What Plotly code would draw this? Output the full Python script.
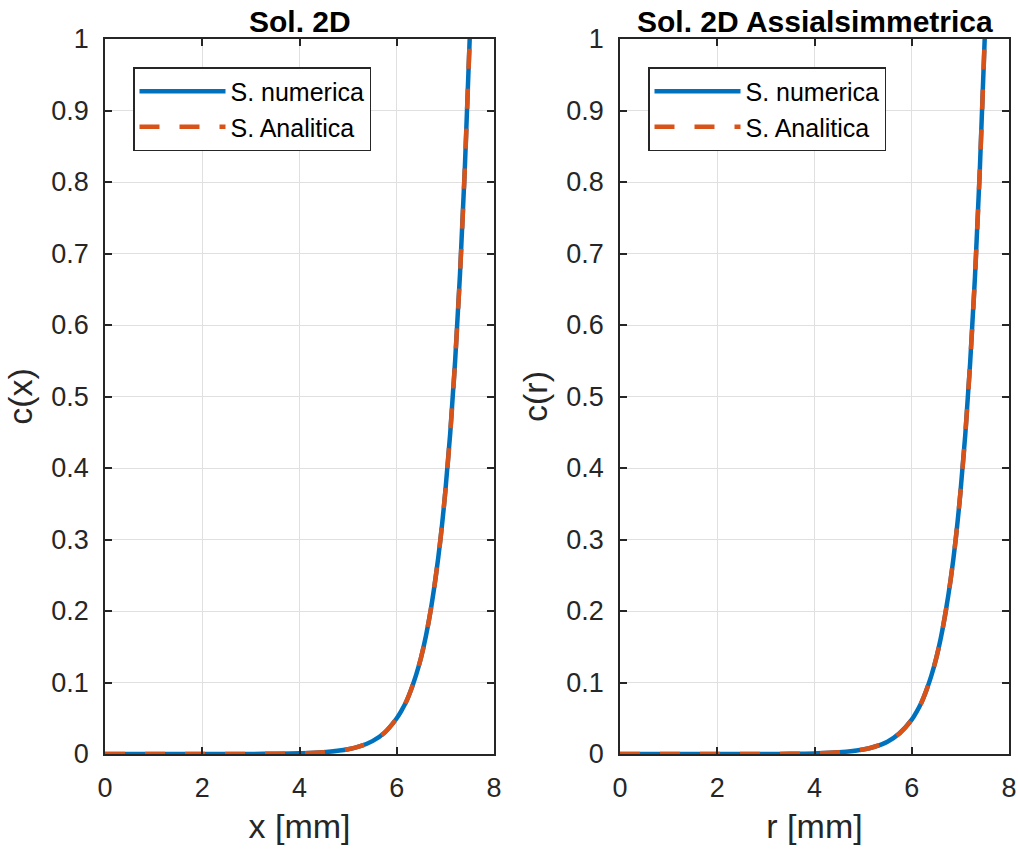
import plotly.graph_objects as go

# Data
x_vals = [0.0, 0.5, 1.0, 1.5, 2.0, 2.5, 3.0, 3.5, 4.0, 4.5, 5.0, 5.25, 5.5, 5.75,
          6.0, 6.1, 6.2, 6.3, 6.4, 6.5, 6.6, 6.7, 6.8, 6.9, 7.0, 7.1, 7.2, 7.3, 7.4, 7.5]
c_num_2d = [0.0, 0.0, 0.0, 0.0, 0.00002, 0.00005, 0.00012, 0.0003, 0.0009, 0.0025, 0.0067,
            0.011, 0.018, 0.030, 0.050, 0.061, 0.074, 0.091, 0.111, 0.135, 0.165, 0.202,
            0.247, 0.301, 0.368, 0.449, 0.549, 0.670, 0.819, 1.0]
c_ana_2d = c_num_2d
r_vals = x_vals
c_num_ax = [0.0, 0.0, 0.0, 0.0, 0.00001, 0.00004, 0.0001, 0.00025, 0.0008, 0.0023, 0.0063,
            0.0105, 0.0172, 0.029, 0.048, 0.059, 0.072, 0.089, 0.109, 0.133, 0.163, 0.200,
            0.244, 0.298, 0.365, 0.446, 0.546, 0.667, 0.817, 1.0]
c_ana_ax = c_num_ax
x_ticks = [0, 2, 4, 6, 8]
y_ticks = [0, 0.1, 0.2, 0.3, 0.4, 0.5, 0.6, 0.7, 0.8, 0.9, 1]

BLUE = "#0072BD"
ORANGE = "#D95319"
DARK = "#262626"
FONT = "Liberation Sans, Arial, sans-serif"

fig = go.Figure()
fig.add_trace(go.Scatter(x=x_vals, y=c_num_2d, mode="lines", name="S. numerica",
                         line=dict(color=BLUE, width=4.5, shape="spline"),
                         xaxis="x", yaxis="y", legend="legend"))
fig.add_trace(go.Scatter(x=x_vals, y=c_ana_2d, mode="lines", name="S. Analitica",
                         line=dict(color=ORANGE, width=4.5, dash="20px,20px", shape="spline"),
                         xaxis="x", yaxis="y", legend="legend"))
fig.add_trace(go.Scatter(x=r_vals, y=c_num_ax, mode="lines", name="S. numerica",
                         line=dict(color=BLUE, width=4.5, shape="spline"),
                         xaxis="x2", yaxis="y2", legend="legend2"))
fig.add_trace(go.Scatter(x=r_vals, y=c_ana_ax, mode="lines", name="S. Analitica",
                         line=dict(color=ORANGE, width=4.5, dash="20px,20px", shape="spline"),
                         xaxis="x2", yaxis="y2", legend="legend2"))

axis_common = dict(showline=True, linecolor=DARK, linewidth=1.5, mirror="allticks",
                   ticks="inside", ticklen=7, tickcolor=DARK, tickwidth=1.5, showgrid=True,
                   gridcolor="#E0E0E0", gridwidth=1, zeroline=False, automargin=False,
                   tickfont=dict(size=27, color=DARK, family=FONT))
title_font = dict(size=34, color=DARK, family=FONT)

fig.update_layout(
    width=1018, height=851,
    margin=dict(l=0, r=0, t=0, b=0, autoexpand=False),
    paper_bgcolor="white", plot_bgcolor="white",
    font=dict(family=FONT, color=DARK),
    xaxis=dict(domain=[105/1018, 494/1018], range=[0, 8], tickvals=x_ticks,
               ticklabelstandoff=9,
               title=dict(text="x [mm]", font=title_font, standoff=12),
               anchor="y", **axis_common),
    yaxis=dict(domain=[1-754/851, 1-39/851], range=[0, 1], tickvals=y_ticks,
               ticklabelstandoff=9,
               title=dict(text="c(x)", font=title_font, standoff=8),
               anchor="x", **axis_common),
    xaxis2=dict(domain=[620/1018, 1009/1018], range=[0, 8], tickvals=x_ticks,
                ticklabelstandoff=9,
                title=dict(text="r [mm]", font=title_font, standoff=12),
                anchor="y2", **axis_common),
    yaxis2=dict(domain=[1-754/851, 1-39/851], range=[0, 1], tickvals=y_ticks,
                ticklabelstandoff=9,
                title=dict(text="c(r)", font=title_font, standoff=8),
                anchor="x2", **axis_common),
    legend=dict(x=133/1018, y=1-67/851, xanchor="left", yanchor="top",
                bgcolor="white", bordercolor=DARK, borderwidth=1.5,
                font=dict(size=25, color="black", family=FONT), itemwidth=86,
                tracegroupgap=0),
    legend2=dict(x=648/1018, y=1-67/851, xanchor="left", yanchor="top",
                 bgcolor="white", bordercolor=DARK, borderwidth=1.5,
                 font=dict(size=25, color="black", family=FONT), itemwidth=86,
                 tracegroupgap=0),
    annotations=[
        dict(text="<b>Sol. 2D</b>", x=(105+494)/2/1018, y=1-21/851, xref="paper", yref="paper",
             xanchor="center", yanchor="middle", showarrow=False,
             font=dict(size=30, color="black", family=FONT)),
        dict(text="<b>Sol. 2D Assialsimmetrica</b>", x=(620+1009)/2/1018, y=1-21/851,
             xref="paper", yref="paper", xanchor="center", yanchor="middle", showarrow=False,
             font=dict(size=30, color="black", family=FONT)),
    ],
)

fig.write_html("out.html")
